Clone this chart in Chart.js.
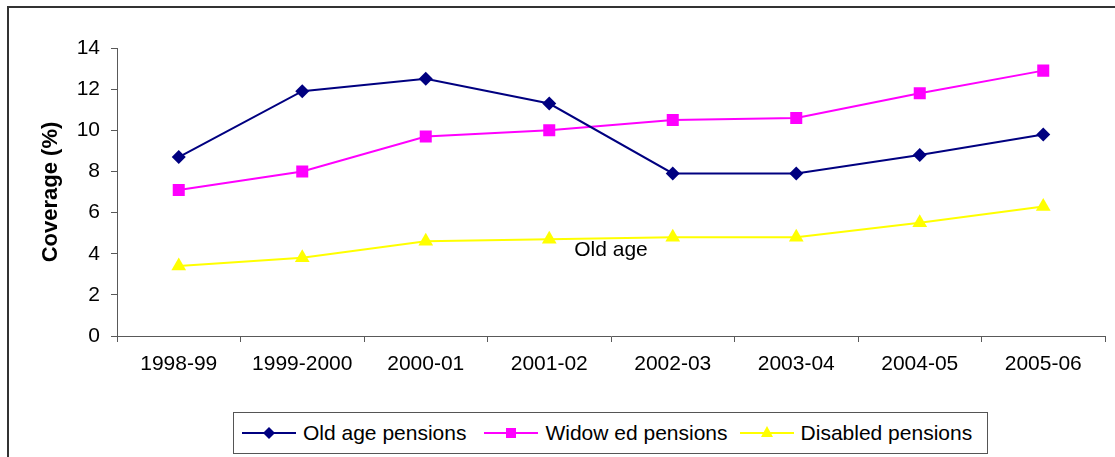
<!DOCTYPE html>
<html>
<head>
<meta charset="utf-8">
<title>Pension coverage</title>
<script src="https://cdn.jsdelivr.net/npm/chart.js@4/dist/chart.umd.min.js"></script>
<style>
    body { margin: 0; background: #fff; font-family: "Liberation Sans", Arial, sans-serif; }
    #wrap { position: relative; width: 1115px; height: 457px; overflow: hidden; }
    #frame { position: absolute; left: 7px; top: 6px; width: 1200px; height: 600px; border-left: 2px solid #333; border-top: 2px solid #333; }
    #chart { position: absolute; left: 0; top: 0; }
    #legend {
        position: absolute; left: 233px; top: 412px; width: 753px; height: 40px;
        border: 1px solid #555; background: #fff;
        display: flex; align-items: center; font-size: 21px; color: #000;
    }
    .item { display: flex; align-items: center; }
    .item svg { display: block; margin-right: 7px; }
</style>
</head>
<body>
<div id="wrap">
    <div id="frame"></div>
    <canvas id="chart" width="1115" height="457"></canvas>
    <div id="legend"></div>
</div>
<script>
// values
const categories = ['1998-99', '1999-2000', '2000-01', '2001-02', '2002-03', '2003-04', '2004-05', '2005-06'];
const oldAgePensions = [8.7, 11.9, 12.5, 11.3, 7.9, 7.9, 8.8, 9.8];
const widowedPensions = [7.1, 8.0, 9.7, 10.0, 10.5, 10.6, 11.8, 12.9];
const disabledPensions = [3.4, 3.8, 4.6, 4.7, 4.8, 4.8, 5.5, 6.3];
const seriesLabels = ['Old age pensions', 'Widow ed pensions', 'Disabled pensions'];
const yTicks = [0, 2, 4, 6, 8, 10, 12, 14];

// stray text label inside the plot
const noteText = 'Old age';
const noteX = 3.5;
const noteY = 4.15;

const FONT = '"Liberation Sans", Arial, sans-serif';
const AXIS_GREY = '#595959';

const series = [
    { label: seriesLabels[0], data: oldAgePensions, color: '#000080', point: 'rectRot', radius: 7 },
    { label: seriesLabels[1], data: widowedPensions, color: '#ff00ff', point: 'rect', radius: 8.5 },
    { label: seriesLabels[2], data: disabledPensions, color: '#ffff00', point: 'triangle', radius: 8.5 }
];

const notePlugin = {
    id: 'note',
    afterDatasetsDraw(chart) {
        const { ctx, scales } = chart;
        ctx.save();
        ctx.font = '21px ' + FONT;
        ctx.fillStyle = '#000';
        ctx.textAlign = 'center';
        ctx.textBaseline = 'middle';
        ctx.fillText(noteText, scales.x.getPixelForValue(noteX), scales.y.getPixelForValue(noteY));
        ctx.restore();
    }
};

new Chart(document.getElementById('chart').getContext('2d'), {
    type: 'line',
    data: {
        labels: categories,
        datasets: series.map(s => ({
            label: s.label,
            data: s.data,
            borderColor: s.color,
            backgroundColor: s.color,
            borderWidth: 2,
            pointStyle: s.point,
            pointRadius: s.radius,
            pointHoverRadius: s.radius,
            pointBorderWidth: 0,
            tension: 0,
            fill: false
        }))
    },
    options: {
        responsive: false,
        animation: false,
        devicePixelRatio: 1,
        layout: { padding: { top: 48, right: 10, left: 0, bottom: 0 } },
        plugins: {
            legend: { display: false },
            tooltip: { enabled: false }
        },
        scales: {
            x: {
                offset: true,
                grid: { offset: true, drawOnChartArea: false, drawTicks: true, tickLength: 6, color: AXIS_GREY },
                border: { color: AXIS_GREY, width: 1 },
                ticks: { font: { family: FONT, size: 21 }, color: '#000', padding: 10, maxRotation: 0, autoSkip: false },
                afterFit: (s) => { s.height = 121; }
            },
            y: {
                min: 0,
                max: 14,
                afterBuildTicks: (s) => { s.ticks = yTicks.map(v => ({ value: v })); },
                grid: { drawOnChartArea: false, drawTicks: true, tickLength: 6, color: AXIS_GREY },
                border: { color: AXIS_GREY, width: 1 },
                ticks: { font: { family: FONT, size: 21 }, color: '#000', padding: 11 },
                title: {
                    display: true,
                    text: 'Coverage (%)',
                    font: { family: FONT, size: 22, weight: 'bold' },
                    color: '#000',
                    padding: { top: 38, bottom: 0 }
                },
                afterFit: (s) => { s.width = 117; }
            }
        }
    },
    plugins: [notePlugin]
});

// legend drawn as html so each entry shows the line with its marker
function markerSvg(s) {
    let shape = '';
    if (s.point === 'rectRot') shape = '<polygon points="27,4 33,10 27,16 21,10" fill="' + s.color + '"/>';
    if (s.point === 'rect') shape = '<rect x="22" y="5" width="10" height="10" fill="' + s.color + '"/>';
    if (s.point === 'triangle') shape = '<polygon points="27,3 33,14 21,14" fill="' + s.color + '"/>';
    return '<svg width="54" height="20"><line x1="0" y1="10" x2="54" y2="10" stroke="' + s.color + '" stroke-width="2"/>' + shape + '</svg>';
}

const gaps = [8, 18, 12];
document.getElementById('legend').innerHTML = series.map((s, i) =>
    '<div class="item" style="margin-left:' + gaps[i] + 'px">' + markerSvg(s) + '<span>' + s.label + '</span></div>'
).join('');
</script>
</body>
</html>
